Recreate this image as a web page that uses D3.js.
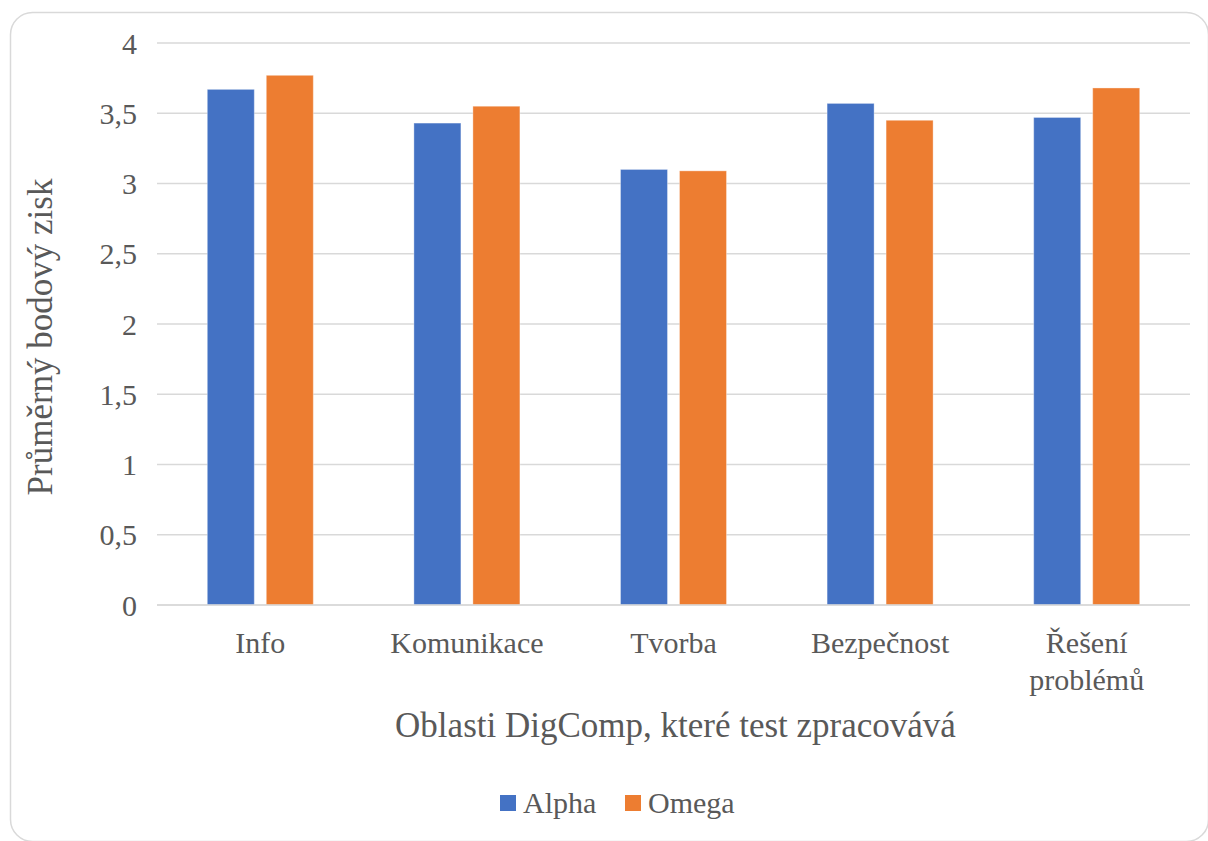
<!DOCTYPE html>
<html>
<head>
<meta charset="utf-8">
<script src="https://cdn.jsdelivr.net/npm/d3@7"></script>
<style>
  html, body { margin: 0; padding: 0; background: #fff; }
  svg { display: block; }
  text { font-family: "Liberation Serif", "Times New Roman", Tinos, "DejaVu Serif", serif; }
</style>
</head>
<body>
<script>
const categories = [["Info"], ["Komunikace"], ["Tvorba"], ["Bezpečnost"], ["Řešení", "problémů"]];
const seriesNames = ["Alpha", "Omega"];
const alphaValues = [3.67, 3.43, 3.10, 3.57, 3.47];
const omegaValues = [3.77, 3.55, 3.09, 3.45, 3.68];
const yTicks = [0, 0.5, 1, 1.5, 2, 2.5, 3, 3.5, 4];
const yTickLabels = ["0", "0,5", "1", "1,5", "2", "2,5", "3", "3,5", "4"];
const colors = ["#4472C4", "#ED7D31"];
const yTitle = "Průměrný bodový zisk";
const xTitle = "Oblasti DigComp, které test zpracovává";

(function () {
const W = 1208, H = 841;
const textColor = "#595959";
const gridColor = "#d9d9d9";

const svg = d3.select("body").append("svg").attr("width", W).attr("height", H);

svg.append("rect")
  .attr("x", 10.5).attr("y", 12.5)
  .attr("width", 1198).attr("height", 829)
  .attr("rx", 22).attr("ry", 22)
  .attr("fill", "#fff").attr("stroke", gridColor).attr("stroke-width", 1.5);

const pL = 157, pR = 1190, pT = 43, pB = 605;
const keys = categories.map(c => c.join(" "));
const x0 = d3.scaleBand().domain(keys).range([pL, pR]).padding(0);
const bw = x0.bandwidth();
const groupW = 106;
const x1 = d3.scaleBand().domain(seriesNames)
  .range([(bw - groupW) / 2, (bw + groupW) / 2])
  .paddingInner(12 / 59).paddingOuter(0);
const y = d3.scaleLinear().domain([0, 4]).range([pB, pT]);

// gridlines
svg.append("g").selectAll("line").data(yTicks).join("line")
  .attr("x1", pL).attr("x2", pR)
  .attr("y1", d => y(d)).attr("y2", d => y(d))
  .attr("stroke", gridColor).attr("stroke-width", 1.5);

// y axis labels via d3 axis
const yAxis = d3.axisLeft(y).tickValues(yTicks)
  .tickFormat((d, i) => yTickLabels[i]).tickSize(0).tickPadding(0);
const gy = svg.append("g").attr("transform", `translate(137,0)`).call(yAxis);
gy.attr("font-family", null).attr("font-size", null);
gy.select(".domain").remove();
gy.selectAll("text").attr("font-size", 30)
  .attr("fill", textColor).attr("dy", "0.34em");

// bars
const data = keys.map((k, i) => ({ key: k, vals: [alphaValues[i], omegaValues[i]] }));
const groups = svg.append("g").selectAll("g").data(data).join("g")
  .attr("transform", d => `translate(${x0(d.key)},0)`);
groups.selectAll("rect").data(d => d.vals.map((v, j) => ({ s: seriesNames[j], v, j })))
  .join("rect")
  .attr("x", d => x1(d.s))
  .attr("width", x1.bandwidth())
  .attr("y", d => y(d.v))
  .attr("height", d => y(0) - y(d.v))
  .attr("fill", d => colors[d.j])
  .attr("stroke", "#fff").attr("stroke-opacity", 0.35).attr("stroke-width", 1);

// baseline
svg.append("line").attr("x1", pL).attr("x2", pR)
  .attr("y1", y(0)).attr("y2", y(0))
  .attr("stroke", gridColor).attr("stroke-width", 1.5);

// x category labels
const xl = svg.append("g").selectAll("text").data(categories).join("text")
  .attr("font-size", 30).attr("fill", textColor)
  .attr("text-anchor", "middle")
  .attr("x", (d, i) => x0(keys[i]) + bw / 2)
  .attr("y", 653);
xl.each(function(d) {
  const t = d3.select(this);
  d.forEach((line, i) => {
    t.append("tspan").attr("x", t.attr("x")).attr("dy", i === 0 ? 0 : 37).text(line);
  });
});

// axis titles
svg.append("text").attr("font-size", 35).attr("fill", textColor)
  .attr("text-anchor", "middle").attr("x", (pL + pR) / 2 + 2).attr("y", 737)
  .text(xTitle);
svg.append("text").attr("font-size", 35).attr("fill", textColor)
  .attr("text-anchor", "middle")
  .attr("transform", `translate(52,${(pT + pB) / 2 + 13}) rotate(-90)`)
  .text(yTitle);

// legend
const legendPos = [500, 625];
const lg = svg.append("g").selectAll("g").data(seriesNames).join("g")
  .attr("transform", (d, i) => `translate(${legendPos[i]},0)`);
lg.append("rect").attr("x", 0).attr("y", 795).attr("width", 16).attr("height", 16)
  .attr("fill", (d, i) => colors[i]);
lg.append("text").attr("x", 23).attr("y", 813)
  .attr("font-size", 30).attr("fill", textColor)
  .text(d => d);
})();
</script>
</body>
</html>
